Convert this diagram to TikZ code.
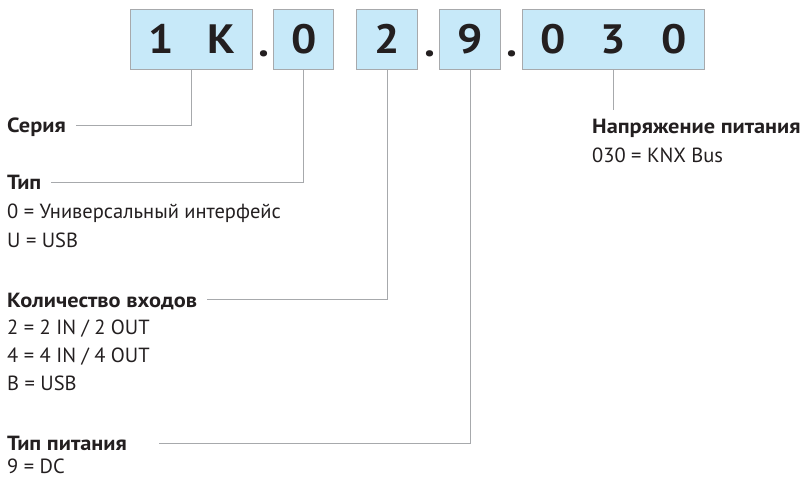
\documentclass[tikz,border=0pt]{standalone}
\usepackage{fontspec}
\setmainfont{PT Sans}[BoldFeatures={FakeStretch=1.09}]
\definecolor{boxblue}{HTML}{C7E9F9}
\definecolor{rulegray}{HTML}{A7A9AC}
\definecolor{ink}{HTML}{231F20}
\newcommand\cell[1]{\makebox[60.5pt]{#1}}

\begin{document}
\begin{tikzpicture}[x=1pt,y=-1pt,
  digit/.style={draw=rulegray,line width=1pt,fill=boxblue,minimum height=60.7pt,inner sep=0pt,text=ink,text height=28.3pt,text depth=0pt,font=\fontsize{41}{41}\bfseries},
  dotmark/.style={anchor=base,inner sep=0pt,text=ink,font=\fontsize{41}{41}\bfseries},
  lead/.style={rulegray,line width=1pt},
  head/.style={anchor=west,inner sep=0pt,text=ink,text height=14.3pt,text depth=0pt,font=\fontsize{20.5}{20.5}\bfseries},
  val/.style={anchor=west,inner sep=0pt,text=ink,text height=14.3pt,text depth=0pt,font=\fontsize{20.5}{20.5}\selectfont}]
\useasboundingbox(0,0)rectangle(806,478);
% code boxes
\node[digit,minimum width=121.4pt](b1)at(191.6,39.6){\cell{1}\cell{K}};
\node[digit,minimum width=60pt](b2)at(303.7,39.6){\cell{0}};
\node[digit,minimum width=61pt](b3)at(387.2,39.6){\cell{2}};
\node[digit,minimum width=60.7pt](b4)at(470.2,39.6){\cell{9}};
\node[digit,minimum width=181pt](b5)at(613.5,39.6){\cell{0}\cell{3}\cell{0}};
\node[dotmark](d1)at(263.6,56.5){.};
\node[dotmark](d2)at(430.2,56.5){.};
\node[dotmark](d3)at(511.5,56.5){.};
% labels
\node[head](ser)at(7,125.7){Серия};
\node[head](typ)at(7,182.7){Тип};
\node[val](typ1)at(7,211.5){0 = Универсальный интерфейс};
\node[val](typ2)at(7,240){U = USB};
\node[head](inp)at(7,300){Количество входов};
\node[val](inp1)at(7,327.5){2 = 2 IN / 2 OUT};
\node[val](inp2)at(7,355.5){4 = 4 IN / 4 OUT};
\node[val](inp3)at(7,383.5){B = USB};
\node[head](pit)at(7,443.3){Тип питания};
\node[val](pit1)at(7,466){9 = DC};
\node[head](vol)at(592,126.7){Напряжение питания};
\node[val](vol1)at(592,155){030 = KNX Bus};
% leaders
\draw[lead]([xshift=10pt]ser.east)-|(b1.south);
\draw[lead]([xshift=10pt]typ.east)-|(b2.south);
\draw[lead]([xshift=10pt]inp.east)-|(b3.south);
\draw[lead]([xshift=32pt]pit.east)-|(b4.south);
\draw[lead](b5.south)--++(0,40);
\end{tikzpicture}
\end{document}
